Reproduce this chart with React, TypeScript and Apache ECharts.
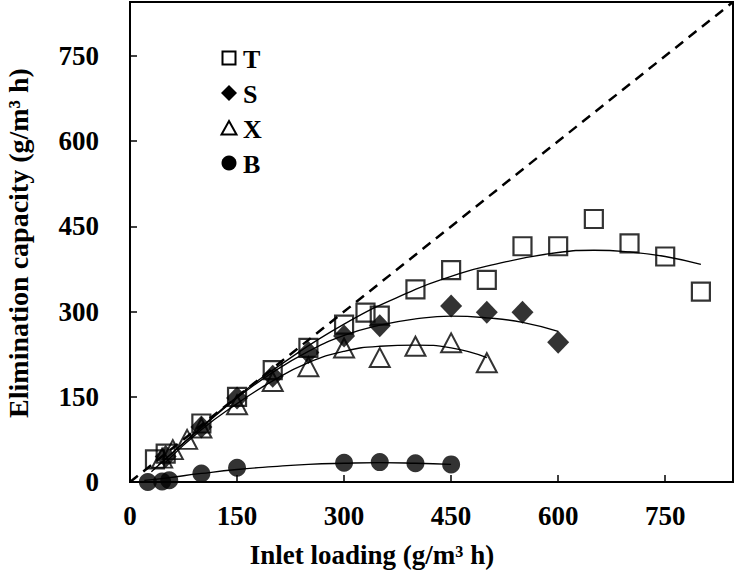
import React, { useEffect, useRef } from "react";
import * as echarts from "echarts";

// ---- data ----
const axisMax = 845;
const tickValues = [0, 150, 300, 450, 600, 750];

const seriesNames = ["T", "S", "X", "B"];

const tPoints = [
  [35, 40], [50, 50], [100, 103], [150, 150], [200, 197], [250, 236], [300, 277],
  [330, 298], [350, 293], [400, 339], [450, 373], [500, 356], [550, 415], [600, 415],
  [650, 463], [700, 420], [750, 397], [800, 335],
];
const sPoints = [
  [50, 45], [100, 97], [150, 148], [200, 186], [250, 228], [300, 257], [350, 275],
  [450, 310], [500, 299], [550, 299], [600, 246],
];
const xPoints = [
  [45, 42], [60, 57], [80, 75], [100, 95], [150, 136], [200, 177], [250, 203],
  [300, 236], [350, 219], [400, 239], [450, 245], [500, 210],
];
const bPoints = [
  [25, 0], [45, 1], [55, 3], [100, 15], [150, 25], [300, 34], [350, 35], [400, 33], [450, 31],
];

// fitted trend curves
const tCurve = [
  [30, 18], [100, 97], [150, 150], [200, 197], [300, 278], [400, 339], [450, 362],
  [500, 380], [600, 404], [650, 408], [700, 405], [750, 397], [800, 383],
];
const sCurve = [
  [40, 30], [100, 95], [150, 148], [200, 193], [250, 230], [300, 258], [350, 276],
  [400, 287], [450, 292], [500, 289], [550, 281], [600, 265],
];
const xCurve = [
  [50, 35], [100, 92], [150, 138], [200, 178], [250, 210], [300, 230], [350, 239],
  [400, 241], [450, 236], [500, 219],
];
const bCurve = [
  [20, 3], [50, 7], [100, 15], [150, 22], [200, 27], [250, 31], [300, 33], [350, 34],
  [400, 33], [450, 31],
];
const identityLine = [[0, 0], [axisMax, axisMax]];

const FONT = "'Liberation Serif', 'Times New Roman', serif";

export default function App() {
  const ref = useRef<HTMLDivElement>(null);

  useEffect(() => {
    const chart = echarts.init(ref.current as HTMLDivElement, null, { renderer: "svg" });

    const axisCommon = {
      type: "value",
      min: 0,
      max: axisMax,
      interval: 150,
      splitLine: { show: false },
      axisLine: { show: true, onZero: false, lineStyle: { color: "#000", width: 2 } },
      axisTick: { show: true, inside: true, length: 7, lineStyle: { color: "#000", width: 1.5 } },
    };
    const labelCommon = {
      color: "#000",
      fontFamily: FONT,
      fontWeight: "bold",
      fontSize: 27,
      showMaxLabel: false,
      formatter: (v: number) => (tickValues.includes(v) ? String(v) : ""),
    };

    const curveSeries = (data: number[][]) => ({
      type: "line",
      data,
      smooth: true,
      showSymbol: false,
      silent: true,
      lineStyle: { color: "#000", width: 1.3 },
      z: 2,
    });

    const legendRows = [58, 93, 128, 163];
    const iconX = 229;
    const textX = 243;

    chart.setOption({
      animation: false,
      backgroundColor: "#fff",
      grid: {
        left: 130,
        right: 7,
        top: 2,
        bottom: 99,
        show: true,
        borderColor: "#000",
        borderWidth: 2,
        backgroundColor: "transparent",
      },
      xAxis: { ...axisCommon, axisLabel: { ...labelCommon, margin: 20 } },
      yAxis: { ...axisCommon, axisLabel: { ...labelCommon, margin: 31 } },
      series: [
        {
          type: "line",
          data: identityLine,
          showSymbol: false,
          silent: true,
          lineStyle: { color: "#000", width: 2.5, type: [10, 7] },
          z: 1,
        },
        curveSeries(tCurve),
        curveSeries(sCurve),
        curveSeries(xCurve),
        curveSeries(bCurve),
        {
          name: seriesNames[3],
          type: "scatter",
          data: bPoints,
          symbol: "circle",
          symbolSize: 18,
          silent: true,
          itemStyle: { color: "#000" },
          z: 3,
        },
        {
          name: seriesNames[2],
          type: "scatter",
          data: xPoints,
          symbol: "triangle",
          symbolSize: [20, 19],
          silent: true,
          itemStyle: { color: "rgba(0,0,0,0)", borderColor: "#000", borderWidth: 2 },
          z: 3,
        },
        {
          name: seriesNames[1],
          type: "scatter",
          data: sPoints,
          symbol: "diamond",
          symbolSize: [22, 23],
          silent: true,
          itemStyle: { color: "#000" },
          z: 3,
        },
        {
          name: seriesNames[0],
          type: "scatter",
          data: tPoints,
          symbol: "rect",
          symbolSize: 18,
          silent: true,
          itemStyle: { color: "rgba(0,0,0,0)", borderColor: "#000", borderWidth: 2.2 },
          z: 3,
        },
      ],
      graphic: [
        // legend icons
        {
          type: "rect",
          shape: { x: iconX - 6.5, y: legendRows[0] - 6.5, width: 13, height: 13 },
          style: { fill: "none", stroke: "#000", lineWidth: 2 },
        },
        {
          type: "polygon",
          shape: {
            points: [
              [iconX, legendRows[1] - 8],
              [iconX + 8, legendRows[1]],
              [iconX, legendRows[1] + 8],
              [iconX - 8, legendRows[1]],
            ],
          },
          style: { fill: "#000" },
        },
        {
          type: "polygon",
          shape: {
            points: [
              [iconX, legendRows[2] - 7],
              [iconX + 7.5, legendRows[2] + 6.5],
              [iconX - 7.5, legendRows[2] + 6.5],
            ],
          },
          style: { fill: "none", stroke: "#000", lineWidth: 2 },
        },
        {
          type: "circle",
          shape: { cx: iconX, cy: legendRows[3], r: 7.5 },
          style: { fill: "#000" },
        },
        ...seriesNames.map((n, i) => ({
          type: "text",
          x: textX,
          y: legendRows[i] + 1,
          style: {
            text: n,
            fill: "#000",
            font: `bold 26px ${FONT}`,
            textVerticalAlign: "middle",
            verticalAlign: "middle",
          },
        })),
        // axis titles
        {
          type: "text",
          x: 372,
          y: 555,
          style: {
            text: "Inlet loading (g/m³ h)",
            fill: "#000",
            font: `bold 27px ${FONT}`,
            align: "center",
            verticalAlign: "middle",
            textAlign: "center",
            textVerticalAlign: "middle",
          },
        },
        {
          type: "text",
          x: 18,
          y: 243,
          rotation: Math.PI / 2,
          style: {
            text: "Elimination capacity (g/m³ h)",
            fill: "#000",
            font: `bold 28px ${FONT}`,
            align: "center",
            verticalAlign: "middle",
            textAlign: "center",
            textVerticalAlign: "middle",
          },
        },
      ],
    });

    return () => chart.dispose();
  }, []);

  return (
    <div
      ref={ref}
      style={{ position: "fixed", left: 0, top: 0, width: 740, height: 581, background: "#fff" }}
    />
  );
}
